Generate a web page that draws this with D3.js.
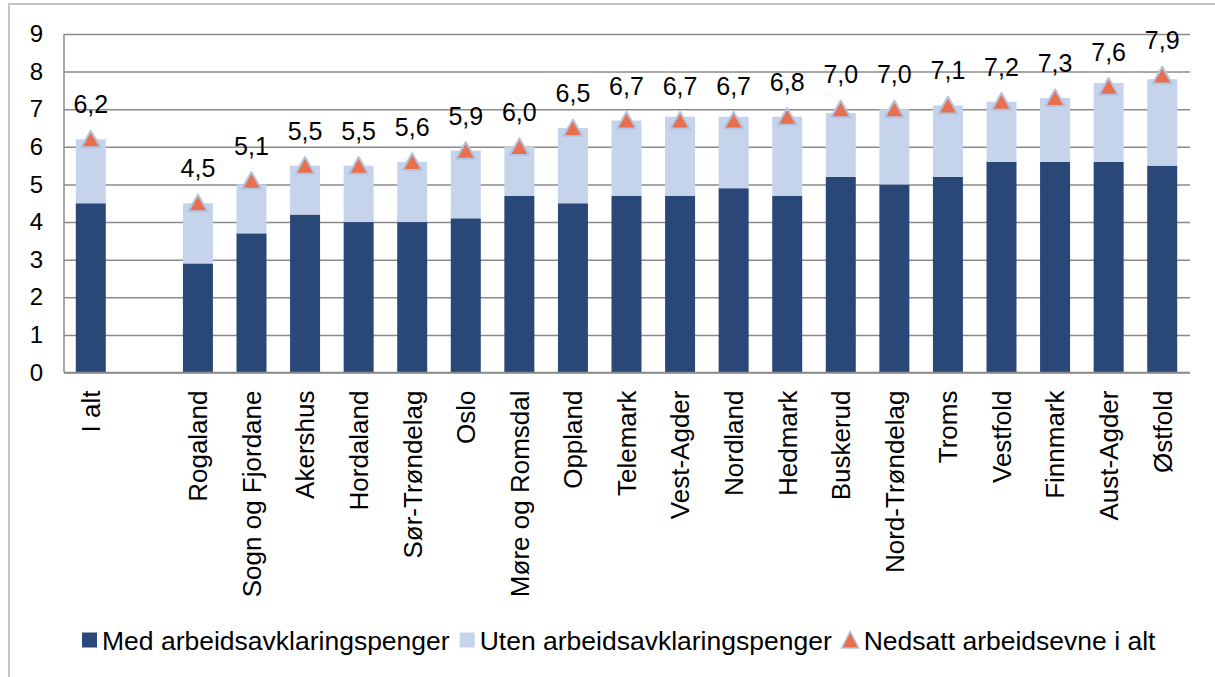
<!DOCTYPE html>
<html>
<head>
<meta charset="utf-8">
<script src="https://cdn.jsdelivr.net/npm/d3@7"></script>
<style>
  html, body { margin: 0; padding: 0; background: #fff; }
  #chart { width: 1215px; height: 677px; }
  text { font-family: "Liberation Sans", Arial, sans-serif; fill: #000; }
</style>
</head>
<body>
<div id="chart"></div>
<script>
// kategorier, "" er et tomt mellomrom etter "I alt"
const categories = ['I alt', '', 'Rogaland', 'Sogn og Fjordane', 'Akershus', 'Hordaland', 'Sør-Trøndelag',
  'Oslo', 'Møre og Romsdal', 'Oppland', 'Telemark', 'Vest-Agder', 'Nordland', 'Hedmark', 'Buskerud',
  'Nord-Trøndelag', 'Troms', 'Vestfold', 'Finnmark', 'Aust-Agder', 'Østfold'];
const medAAP = [4.5, null, 2.9, 3.7, 4.2, 4.0, 4.0, 4.1, 4.7, 4.5, 4.7, 4.7, 4.9, 4.7, 5.2, 5.0, 5.2, 5.6, 5.6, 5.6, 5.5];
const utenAAP = [1.7, null, 1.6, 1.3, 1.3, 1.5, 1.6, 1.8, 1.3, 2.0, 2.0, 2.1, 1.9, 2.1, 1.7, 2.0, 1.9, 1.6, 1.7, 2.1, 2.3];
const iAlt = [6.2, null, 4.5, 5.1, 5.5, 5.5, 5.6, 5.9, 6.0, 6.5, 6.7, 6.7, 6.7, 6.8, 7.0, 7.0, 7.1, 7.2, 7.3, 7.6, 7.9];
const yTicks = [0, 1, 2, 3, 4, 5, 6, 7, 8, 9];
const seriesNames = ['Med arbeidsavklaringspenger', 'Uten arbeidsavklaringspenger', 'Nedsatt arbeidsevne i alt'];

const width = 1215, height = 677;
const margin = {top: 34, right: 25, bottom: 304, left: 64};
const colors = {med: '#2a4877', uten: '#c6d4eb', tri: '#e8704e', triStroke: '#b3c4e3', grid: '#8a8a8a'};

const svg = d3.select('#chart').append('svg')
  .attr('width', width)
  .attr('height', height);

// ytre ramme
svg.append('path')
  .attr('d', `M9,${height + 5} L9,4 L${width + 5},4`)
  .attr('fill', 'none')
  .attr('stroke', '#c4c4c4')
  .attr('stroke-width', 2);

const x = d3.scaleBand()
  .domain(categories)
  .range([margin.left, width - margin.right - 1])
  .paddingInner(0.44)
  .paddingOuter(0.22);
const y = d3.scaleLinear()
  .domain([0, 9])
  .range([height - margin.bottom - 0.5, margin.top]);

// rutenett + y-akse
const yAxis = g => g.attr('transform', `translate(${margin.left},0)`)
  .call(d3.axisLeft(y).tickValues(yTicks).tickSize(0).tickPadding(21))
  .call(g => g.select('.domain').remove())
  .call(g => g.selectAll('.tick line').clone()
              .attr('x2', width - margin.right - margin.left)
              .attr('stroke', colors.grid)
              .attr('stroke-width', 1.5))
  .call(g => g.selectAll('.tick text')
              .attr('font-size', 24)
              .attr('font-family', '"Liberation Sans", Arial, sans-serif')
              .attr('fill', '#000'));
svg.append('g').call(yAxis);

svg.append('line')
  .attr('x1', margin.left).attr('x2', margin.left)
  .attr('y1', y(9)).attr('y2', y(0))
  .attr('stroke', colors.grid)
  .attr('stroke-width', 1.5);

const rows = categories.map((c, i) => ({cat: c, med: medAAP[i], uten: utenAAP[i], total: iAlt[i]}))
  .filter(d => d.med !== null);

// stablede søyler
const bars = svg.append('g');
bars.selectAll('rect.med')
  .data(rows)
  .enter().append('rect')
    .attr('class', 'med')
    .attr('x', d => x(d.cat))
    .attr('width', x.bandwidth())
    .attr('y', d => y(d.med))
    .attr('height', d => y(0) - y(d.med))
    .attr('fill', colors.med);
bars.selectAll('rect.uten')
  .data(rows)
  .enter().append('rect')
    .attr('class', 'uten')
    .attr('x', d => x(d.cat))
    .attr('width', x.bandwidth())
    .attr('y', d => y(d.med + d.uten))
    .attr('height', d => y(d.med) - y(d.med + d.uten))
    .attr('fill', colors.uten);

// x-akse
svg.append('line')
  .attr('x1', margin.left).attr('x2', width - margin.right)
  .attr('y1', y(0)).attr('y2', y(0))
  .attr('stroke', colors.grid)
  .attr('stroke-width', 1.5);

const xAxis = g => g.attr('transform', `translate(0,${y(0)})`)
  .call(d3.axisBottom(x).tickSize(0).tickPadding(0))
  .call(g => g.select('.domain').remove())
  .call(g => g.selectAll('.tick text')
              .attr('font-size', 26)
              .attr('font-family', '"Liberation Sans", Arial, sans-serif')
              .attr('fill', '#000')
              .attr('text-anchor', 'end')
              .attr('transform', 'rotate(-90)')
              .attr('x', -18)
              .attr('y', 0)
              .attr('dy', '0.36em'));
svg.append('g').call(xAxis);

// trekanter for i alt
const tri = d3.symbol().type(d3.symbolTriangle).size(160);
svg.append('g')
  .selectAll('path')
  .data(rows)
  .enter().append('path')
    .attr('d', tri)
    .attr('transform', d => `translate(${x(d.cat) + x.bandwidth() / 2},${y(d.total) + 2.5})`)
    .attr('fill', colors.tri)
    .attr('stroke', colors.triStroke)
    .attr('stroke-width', 2)
    .attr('stroke-linejoin', 'round');

// dataetiketter
const fmt = v => d3.format('.1f')(v).replace('.', ',');
svg.append('g')
  .selectAll('text')
  .data(rows)
  .enter().append('text')
    .attr('x', d => x(d.cat) + x.bandwidth() / 2)
    .attr('y', d => y(d.total) - 26)
    .attr('text-anchor', 'middle')
    .attr('font-size', 25)
    .text(d => fmt(d.total));

// tegnforklaring
const legend = svg.append('g').attr('transform', 'translate(82,640)');
let lx = 0;
seriesNames.forEach((name, i) => {
  const item = legend.append('g').attr('transform', `translate(${lx},0)`);
  if (i < 2) {
    item.append('rect')
      .attr('x', 0).attr('y', -7.5)
      .attr('width', 15).attr('height', 15)
      .attr('fill', i === 0 ? colors.med : colors.uten);
  } else {
    item.append('path')
      .attr('d', 'M8.5,-8.5 L17,8 L0,8 Z')
      .attr('fill', colors.tri)
      .attr('stroke', colors.triStroke)
      .attr('stroke-width', 1.5);
  }
  const t = item.append('text')
    .attr('x', i < 2 ? 20 : 22)
    .attr('dy', '0.36em')
    .attr('font-size', 26.5)
    .text(name);
  lx += (i < 2 ? 20 : 22) + t.node().getComputedTextLength() + 10;
});
</script>
</body>
</html>
